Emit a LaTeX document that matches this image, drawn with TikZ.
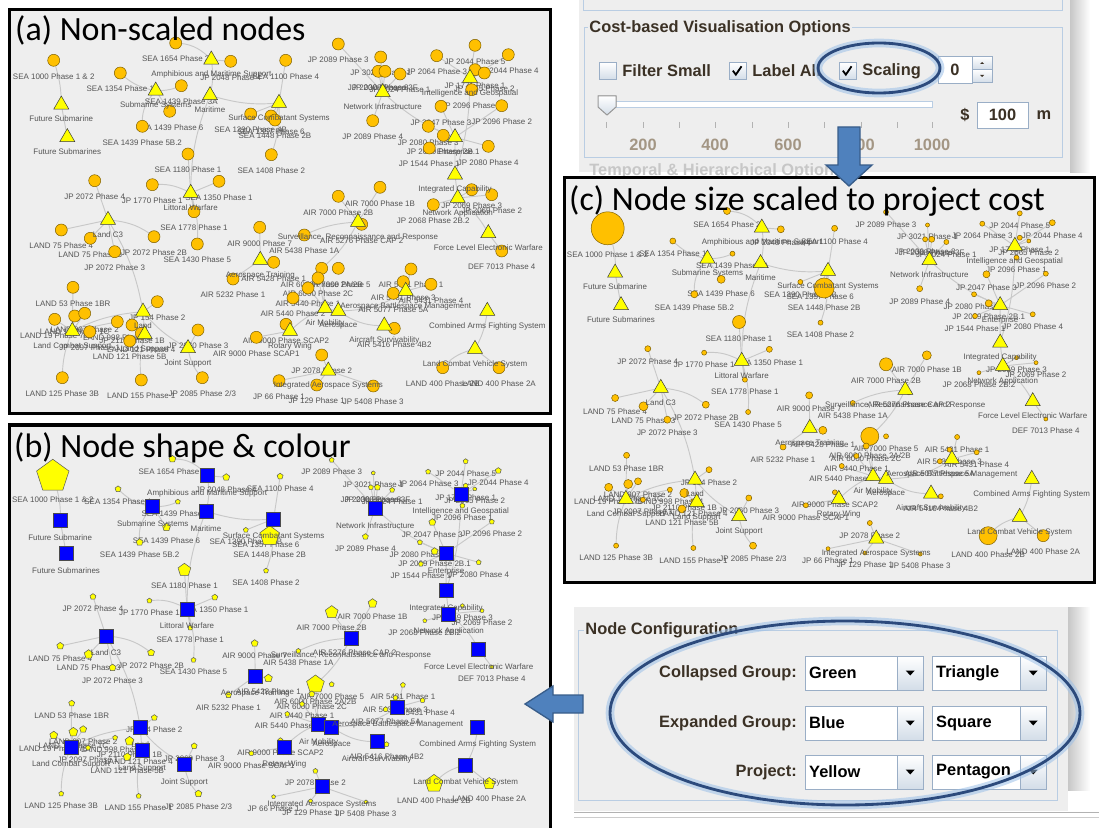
\documentclass[tikz,border=0pt]{standalone}
\usepackage{fontspec}
\setmainfont{Liberation Sans}
\newfontfamily\capfont{Carlito}
\usetikzlibrary{positioning,shapes.geometric}
\definecolor{PanelGray}{HTML}{EEEEEE}
\definecolor{ProjOrange}{HTML}{FFC000}
\definecolor{ProjLine}{HTML}{7F6000}
\definecolor{GrpYellow}{HTML}{FFFF00}
\definecolor{GrpLine}{HTML}{3A3A3A}
\definecolor{SqBlue}{HTML}{0000FF}
\definecolor{LinkGray}{HTML}{C8C8C8}
\definecolor{LabelInk}{HTML}{555555}
\definecolor{GuiBg}{HTML}{EEEEEE}
\definecolor{GuiInk}{HTML}{3B3125}
\definecolor{GuiFrame}{HTML}{B9CDE3}
\definecolor{GuiFaint}{HTML}{A39684}
\definecolor{BoxLine}{HTML}{9AAEC6}
\definecolor{BtnShade}{HTML}{D3DDE8}
\definecolor{ArrowFill}{HTML}{4F81BD}
\definecolor{ArrowLine}{HTML}{385D8A}
\definecolor{RingBlue}{HTML}{2C4A7C}
\definecolor{RingGlow}{HTML}{9CC0E8}

\pgfdeclarelayer{panel}
\pgfdeclarelayer{links}
\pgfsetlayers{panel,links,main}

\newcommand\pj[5]{\node[proj=#4,label={below:{#5}}] (#1) at (#2,#3) {};}
\newcommand\gp[4]{\node[grp,label={below:{#4}}] (#1) at (#2,#3) {};}

% the same project graph is drawn in all three panels
\newcommand\projnodes{%
\pj{sea1654}{167.7}{35}{7}{SEA 1654 Phase 2}
\pj{jp2048}{222.7}{53.3}{7}{JP 2048 Phase 4}
\pj{sea1100}{277.7}{52.3}{6}{SEA 1100 Phase 4}
\pj{sea1000}{45.7}{52.3}{33}{SEA 1000 Phase 1 \& 2}
\pj{sea1354}{112.3}{65}{6}{SEA 1354 Phase 1}
\pj{sea1439a}{173.3}{77.7}{5}{SEA 1439 Phase 3A}
\pj{sea1439b}{161.7}{103.3}{8}{SEA 1439 Phase 6}
\pj{sea1439c}{134.3}{118.3}{7}{SEA 1439 Phase 5B.2}
\pj{sea1180}{180}{146}{13}{SEA 1180 Phase 1}
\pj{jp2072a}{86.7}{172.7}{6}{JP 2072 Phase 4}
\pj{jp1770}{144.3}{176.7}{5}{JP 1770 Phase 1}
\pj{sea1350}{211}{173.3}{6}{SEA 1350 Phase 1}
\pj{sea1390}{242.7}{106}{5}{SEA 1390 Phase 4B}
\pj{sea1357}{263}{108}{6}{SEA 1357 Phase 6}
\pj{sea1448}{267}{112}{20}{SEA 1448 Phase 2B}
\pj{sea1408}{263.3}{146.7}{5}{SEA 1408 Phase 2}
\pj{jp2089a}{330.3}{36}{5}{JP 2089 Phase 3}
\pj{jp3021}{372.7}{49}{4}{JP 3021 Phase 1}
\pj{jp2030}{370.3}{63.3}{5}{JP 2030 Phase 8}
\pj{jp2008}{377}{63.3}{6}{JP 2008 Phase 3F}
\pj{jp3024}{392}{66}{5}{JP 3024 Phase 1}
\pj{jp2089b}{364.7}{112.7}{6}{JP 2089 Phase 4}
\pj{jp2064}{428.7}{47.7}{5}{JP 2064 Phase 3}
\pj{jp2044a}{467}{37.3}{5}{JP 2044 Phase 5}
\pj{jp2044b}{500.3}{46.7}{6}{JP 2044 Phase 4}
\pj{jp1771}{467}{61.7}{5}{JP 1771 Phase 1}
\pj{jp2065}{476.3}{65}{4}{JP 2065 Phase 2}
\pj{jp2096a}{463.7}{81.7}{5}{JP 2096 Phase 1}
\pj{jp2047}{433}{98.3}{7}{JP 2047 Phase 3}
\pj{jp2096b}{493.7}{97.7}{5}{JP 2096 Phase 2}
\pj{jp2080a}{420.3}{118.3}{5}{JP 2080 Phase 3}
\pj{jp2089c}{435.3}{127.3}{7}{JP 2089 Phase 2B.1}
\pj{jp1544}{421.3}{140}{5}{JP 1544 Phase 1}
\pj{jp2080b}{480.3}{138.3}{5}{JP 2080 Phase 4}
\pj{air7000a}{372}{179.3}{9}{AIR 7000 Phase 1B}
\pj{air7000b}{330.3}{188.3}{13}{AIR 7000 Phase 2B}
\pj{jp2069a}{463.7}{181.7}{4}{JP 2069 Phase 3}
\pj{jp2069b}{483.7}{186.7}{4}{JP 2069 Phase 2}
\pj{jp2068}{425.3}{196.7}{4}{JP 2068 Phase 2B.2}
\pj{def7013}{493.7}{243}{4}{DEF 7013 Phase 4}
\pj{air5276}{353.7}{216.3}{5}{AIR 5276 Phase CAP 2}
\pj{air5438}{296.3}{227}{5}{AIR 5438 Phase 1A}
\pj{air5428}{265.7}{254.3}{8}{AIR 5428 Phase 1}
\pj{air5232}{225}{271}{6}{AIR 5232 Phase 1}
\pj{air9000a}{251.7}{219.3}{7}{AIR 9000 Phase 7}
\pj{air6000}{313.7}{260.3}{18}{AIR 6000 Phase 2A/2B}
\pj{air7000c}{330.3}{260.3}{5}{AIR 7000 Phase 5}
\pj{air6000c}{310}{270}{6}{AIR 6000 Phase 2C}
\pj{air5440a}{300}{280}{5}{AIR 5440 Phase 1}
\pj{air5440b}{285}{290}{5}{AIR 5440 Phase 2}
\pj{air5431a}{403}{261}{5}{AIR 5431 Phase 1}
\pj{air5431b}{423}{276.3}{5}{AIR 5431 Phase 4}
\pj{air5431c}{395.3}{273.7}{5}{AIR 5431 Phase 3}
\pj{air5077}{385.3}{285.3}{5}{AIR 5077 Phase 5A}
\pj{air5416}{386.3}{320.3}{5}{AIR 5416 Phase 4B2}
\pj{land400b}{434.7}{359.7}{18}{LAND 400 Phase 2B}
\pj{land400a}{491}{359.7}{12}{LAND 400 Phase 2A}
\pj{air9000b}{278}{316.3}{5}{AIR 9000 Phase SCAP2}
\pj{air9000c}{248.3}{329.3}{5}{AIR 9000 Phase SCAP1}
\pj{jp2078}{313.7}{347}{5}{JP 2078 Phase 2}
\pj{jp66}{271}{372.7}{4}{JP 66 Phase 1}
\pj{jp129}{308.7}{377}{4}{JP 129 Phase 1}
\pj{jp5408}{365.3}{378}{4}{JP 5408 Phase 3}
\pj{land75a}{53.3}{222}{7}{LAND 75 Phase 4}
\pj{land75b}{82.3}{230.3}{9}{LAND 75 Phase 3}
\pj{jp2072b}{106.7}{243.7}{7}{JP 2072 Phase 3}
\pj{jp2072c}{146}{228.7}{7}{JP 2072 Phase 2B}
\pj{sea1778}{186}{203.7}{5}{SEA 1778 Phase 1}
\pj{sea1430}{189.3}{236}{5}{SEA 1430 Phase 5}
\pj{land53}{65}{279.3}{6}{LAND 53 Phase 1BR}
\pj{jp154}{149.3}{293.7}{6}{JP 154 Phase 2}
\pj{land19}{46.7}{311.3}{8}{LAND 19 Phase 7B}
\pj{land17}{66.7}{308}{9}{LAND 17 Phase 1C}
\pj{land907}{76.7}{305.3}{7}{LAND 907 Phase 2}
\pj{land998}{109.3}{313.7}{5}{LAND 998 Phase 1}
\pj{jp2097}{81.7}{323.7}{5}{JP 2097 Phase 1}
\pj{jp2110}{124}{317}{9}{JP 2110 Phase 1B}
\pj{land121}{121.7}{333}{8}{LAND 121 Phase 5B}
\pj{land121b}{133.3}{325.3}{5}{LAND 121 Phase 4}
\pj{jp2060}{190}{322}{6}{JP 2060 Phase 3}
\pj{land125}{54.3}{369.7}{5}{LAND 125 Phase 3B}
\pj{land155}{133.3}{372}{5}{LAND 155 Phase 1}
\pj{jp2085}{194.3}{369.7}{7}{JP 2085 Phase 2/3}
% groups
\gp{amphib}{203.3}{51.7}{Amphibious and Maritime Support}
\gp{subsys}{147.7}{82.7}{Submarine Systems}
\gp{maritime}{202}{87.3}{Maritime}
\gp{futsub}{53.3}{96.7}{Future Submarine}
\gp{futsubs}{59.3}{129.3}{Future Submarines}
\gp{littoral}{182.7}{185}{Littoral Warfare}
\gp{surface}{271}{95}{Surface Combatant Systems}
\gp{netinf}{374.7}{84.3}{Network Infrastructure}
\gp{intgeo}{462}{70}{Intelligence and Geospatial}
\gp{enterprise}{447}{129.3}{Enterprise}
\gp{intcap}{447}{166.7}{Integrated Capability}
\gp{netapp}{449.7}{190}{Network Application}
\gp{flew}{480.3}{225.3}{Force Level Electronic Warfare}
\gp{surv}{350}{214}{Surveillance, Reconnaissance and Response}
\gp{aerotrain}{252.3}{252}{Aerospace Training}
\gp{airmob}{317}{300.3}{Air Mobility}
\gp{aerospace}{330.3}{303}{Aerospace}
\gp{abm}{397.7}{283}{Aerospace Battlespace Management}
\gp{cafs}{479.3}{303}{Combined Arms Fighting System}
\gp{aircsurv}{376.3}{317.7}{Aircraft Survivability}
\gp{lcvs}{467}{341}{Land Combat Vehicle System}
\gp{rotary}{282}{323}{Rotary Wing}
\gp{ias}{320.3}{362.7}{Integrated Aerospace Systems}
\gp{landc3}{100}{212}{Land C3}
\gp{land}{135}{303.7}{Land}
\gp{lcs}{64.3}{323}{Land Combat Support}
\gp{landsup}{136.7}{326.3}{Land Support}
\gp{joint}{180}{340.3}{Joint Support}
}

\newcommand\projlinks{%
\draw[link] (sea1000) to[bend left=8] (futsub) (futsub) -- (futsubs);
\draw[link] (subsys) to[bend left=15] (sea1354) (subsys) to[bend right=10] (sea1439a)
  (subsys) -- (sea1439b) (subsys) to[bend right=20] (sea1439c);
\draw[link] (amphib) to[bend right=20] (sea1654) (amphib) -- (jp2048)
  (amphib) to[bend left=10] (maritime) (maritime) to[bend right=10] (surface)
  (maritime) to[bend right=10] (littoral);
\draw[link] (littoral) -- (sea1180) (littoral) to[bend right=15] (jp1770) (littoral) -- (sea1350)
  (littoral) -- (sea1778) (littoral) to[bend left=10] (sea1430);
\draw[link] (surface) -- (sea1100) (surface) -- (sea1390) (surface) -- (sea1448)
  (surface) -- (sea1357) (surface) to[bend left=10] (sea1408);
\draw[link] (netinf) -- (jp2089a) (netinf) -- (jp3021) (netinf) -- (jp2030) (netinf) -- (jp2008)
  (netinf) -- (jp3024) (netinf) -- (jp2089b) (netinf) to[bend right=10] (enterprise);
\draw[link] (intgeo) -- (jp2064) (intgeo) -- (jp2044a) (intgeo) -- (jp2044b) (intgeo) -- (jp1771)
  (intgeo) -- (jp2065) (intgeo) -- (jp2096a) (intgeo) to[bend left=8] (intcap);
\draw[link] (enterprise) -- (jp2047) (enterprise) -- (jp2096b) (enterprise) -- (jp2080a)
  (enterprise) -- (jp2089c) (enterprise) -- (jp1544) (enterprise) -- (jp2080b)
  (enterprise) -- (intcap) (intcap) -- (netapp);
\draw[link] (netapp) -- (jp2069a) (netapp) -- (jp2069b) (netapp) -- (jp2068)
  (netapp) to[bend left=10] (flew) (flew) -- (def7013);
\draw[link] (surv) -- (air5276) (surv) to[bend right=10] (air5438) (surv) -- (air7000b)
  (surv) -- (air7000a) (surv) to[bend left=10] (air6000);
\draw[link] (aerotrain) -- (air5232) (aerotrain) -- (air9000a) (aerotrain) -- (air5428);
\draw[link] (airmob) -- (air6000) (airmob) -- (air6000c) (airmob) -- (air5440a) (airmob) -- (air5440b)
  (aerospace) -- (airmob) (aerospace) to[bend right=15] (abm) (aerospace) to[bend right=15] (aircsurv);
\draw[link] (abm) -- (air5431a) (abm) -- (air5431b) (abm) -- (air5431c) (abm) -- (air5077)
  (aircsurv) -- (air5416);
\draw[link] (cafs) to[bend left=10] (lcvs) (lcvs) to[bend right=15] (land400b) (lcvs) -- (land400a);
\draw[link] (rotary) -- (air9000b) (rotary) -- (air9000c) (rotary) to[bend left=10] (airmob);
\draw[link] (ias) -- (jp2078) (ias) -- (jp66) (ias) -- (jp129) (ias) -- (jp5408);
\draw[link] (landc3) -- (land75a) (landc3) -- (land75b) (landc3) -- (jp2072a) (landc3) -- (jp2072b)
  (landc3) to[bend left=15] (jp2072c) (landc3) to[bend left=10] (land);
\draw[link] (land) -- (jp154) (land) to[bend right=10] (lcs) (land) -- (landsup);
\draw[link] (lcs) -- (land53) (lcs) -- (land19) (lcs) -- (land17) (lcs) -- (land907) (lcs) -- (jp2097)
  (lcs) to[bend right=10] (land125) (lcs) -- (land998);
\draw[link] (landsup) -- (jp2110) (landsup) -- (land121) (landsup) -- (land121b)
  (landsup) to[bend right=10] (land155);
\draw[link] (joint) -- (jp2060) (joint) to[bend right=15] (jp2085) (joint) to[bend left=10] (land);
}

\begin{document}
\begin{tikzpicture}[
  x=0.3mm, y=-0.3mm,
  every label/.style={font=\fontsize{6.8}{7}\selectfont, text=LabelInk, inner sep=0pt},
  label distance=1.95mm,
  link/.style={draw=LinkGray, line width=0.28mm},
  frame/.style={draw=black, line width=1.05mm},
  title/.style={font=\capfont\fontsize{29}{32}\selectfont, inner sep=0pt, anchor=base west},
  guihead/.style={font=\bfseries\fontsize{14}{16}\selectfont, text=GuiInk, inner sep=1pt},
  guitext/.style={font=\bfseries\fontsize{14}{16}\selectfont, text=GuiInk, inner sep=0pt},
  chkbox/.style={draw=BoxLine, top color=white, bottom color=BtnShade, minimum size=5.1mm, inner sep=0pt},
  checked/.style={path picture={\draw[black, line width=0.55mm]
    ([xshift=-1.4mm,yshift=0.1mm]path picture bounding box.center) -- ++(0.9mm,-1.2mm) -- ++(1.7mm,2.5mm);}},
  field/.style={draw=BoxLine, fill=white, minimum height=8.1mm, inner sep=0pt,
    font=\bfseries\fontsize{14}{16}\selectfont, text=GuiInk},
  spinbtn/.style={draw=BoxLine, top color=white, bottom color=BtnShade, minimum width=6mm, minimum height=4mm, inner sep=0pt},
  combo/.style={draw=BoxLine, fill=white, inner xsep=1.2mm, inner ysep=0pt, minimum height=10.2mm,
    text width=#1, align=left, font=\bfseries\fontsize{14}{16}\selectfont, text=black},
  dropbtn/.style={draw=BoxLine, top color=white, bottom color=BtnShade, minimum width=7.8mm, minimum height=10.2mm, inner sep=0pt,
    path picture={\fill[black] ([xshift=-1.35mm,yshift=0.75mm]path picture bounding box.center)
      -- ++(2.7mm,0) -- ++(-1.35mm,-1.5mm) -- cycle;}},
  ringglow/.style={draw=RingGlow, line width=2.6mm, opacity=0.55},
  ring/.style={draw=RingBlue, line width=0.85mm},
  blockarrow/.style={fill=ArrowFill, draw=ArrowLine, line width=0.4mm, line join=miter}
]
\useasboundingbox (0,0) rectangle (1099,828);

% (a) panel
\begin{pgfonlayer}{panel}
\fill[PanelGray] (8,8) rectangle (552,415);
\end{pgfonlayer}
\begin{scope}[name prefix=a-,
  proj/.style={circle, draw=ProjLine, fill=ProjOrange, line width=0.15mm, minimum size=3.6mm, inner sep=0pt},
  grp/.style={regular polygon, regular polygon sides=3, draw=GrpLine, fill=GrpYellow, line width=0.15mm, minimum size=5.2mm, inner sep=0pt}]
  \begin{scope}
    \clip (11,11) rectangle (549,412);
    \begin{scope}[shift={(8,8)}]
      \projnodes
    \end{scope}
  \end{scope}
  \begin{pgfonlayer}{links}\projlinks\end{pgfonlayer}
\end{scope}
\draw[frame] (9.5,9.5) rectangle (550.5,413.5);
\node[title] (atitle) at (15,41) {(a) Non-scaled nodes};

% (b) panel
\begin{pgfonlayer}{panel}
\fill[PanelGray] (8,423) rectangle (552,830);
\end{pgfonlayer}
\begin{scope}[name prefix=b-,
  proj/.style={regular polygon, regular polygon sides=5, draw=black!65, fill=GrpYellow, line width=0.15mm, minimum size=#1*0.31mm, inner sep=0pt},
  grp/.style={rectangle, draw=black!70, fill=SqBlue, line width=0.15mm, minimum size=4.2mm, inner sep=0pt}]
  \begin{scope}
    \clip (11,427) rectangle (549,830);
    \begin{scope}[shift={(8,424)}, xscale=0.98]
      \projnodes
    \end{scope}
  \end{scope}
  \begin{pgfonlayer}{links}\projlinks\end{pgfonlayer}
\end{scope}
\draw[frame] (9.5,425) rectangle (550.5,835);
\node[title] (btitle) at (14,457) {(b) Node shape \& colour};

% cost-based options (GUI)
\fill[GuiBg] (579,0) rectangle (1070,172);
\shade[left color=black!22, right color=white] (1070,0) rectangle (1090,172);
\draw[GuiFrame, line width=0.3mm] (583,0) -- (583,11) -- (1062,11) -- (1062,0);
\draw[GuiFrame, line width=0.3mm] (584,28) rectangle (1062,157);
\node[guihead, fill=GuiBg, anchor=west] (costhead) at (588,28) {Cost-based Visualisation Options};
\node[chkbox] (filterbox) at (607.5,71) {};
\node[guitext, right=1.8mm of filterbox] (filtertext) {Filter Small};
\node[chkbox, checked] (labelbox) at (737.5,71) {};
\node[guitext, right=1.8mm of labelbox] (labeltext) {Label All};
\node[chkbox, checked] (scalebox) at (847.5,71) {};
\node[guitext, right=1.8mm of scalebox] (scaletext) {Scaling};
\node[field, minimum width=10.2mm] (spinfield) at (955,69.5) {0};
\node[spinbtn, path picture={\fill[GuiInk] ([xshift=-0.6mm,yshift=-0.3mm]path picture bounding box.center) -- ++(1.2mm,0) -- ++(-0.6mm,0.6mm) -- cycle;}] (spinup) at (982,63) {};
\node[spinbtn, path picture={\fill[GuiInk] ([xshift=-0.6mm,yshift=0.3mm]path picture bounding box.center) -- ++(1.2mm,0) -- ++(-0.6mm,-0.6mm) -- cycle;}] (spindown) at (982,76) {};
\draw[GuiFrame, fill=white, line width=0.3mm] (600,102) rectangle (932,108);
\filldraw[draw=black!40, top color=white, bottom color=BtnShade, line width=0.3mm]
  (598,96) -- (616,96) -- (616,107) -- (607,115) -- (598,107) -- cycle;
\draw[black!30, line width=0.3mm] (606,122) -- (606,128) (643,122) -- (643,128) (679,122) -- (679,128)
  (715,122) -- (715,128) (752,122) -- (752,128) (788,122) -- (788,128) (824,122) -- (824,128)
  (861,122) -- (861,128) (897,122) -- (897,128) (932,122) -- (932,128);
\node[guitext, text=GuiFaint] (tick200) at (643,145) {200};
\node[guitext, text=GuiFaint] (tick400) at (715,145) {400};
\node[guitext, text=GuiFaint] (tick600) at (788,145) {600};
\node[guitext, text=GuiFaint] (tick800) at (861,145) {800};
\node[guitext, text=GuiFaint] (tick1000) at (932,145) {1000};
\node[guitext] (dollar) at (965,115) {\$};
\node[field, minimum width=15.3mm, minimum height=7.8mm] (costfield) at (1002.5,115) {100};
\node[guitext] (unitm) at (1044,115) {m};
\node[guihead, text=black!22, anchor=west] (temphead) at (588,171) {Temporal \& Hierarchical Options};
\draw[ringglow] (879,68) ellipse [x radius=61, y radius=25];
\draw[ring] (879,68) ellipse [x radius=61, y radius=25];

% (c) panel
\begin{pgfonlayer}{panel}
\fill[PanelGray] (563,176) rectangle (1096,584);
\end{pgfonlayer}
\begin{scope}[name prefix=c-,
  proj/.style={circle, draw=ProjLine, fill=ProjOrange, line width=0.15mm, minimum size=#1*0.3mm, inner sep=0pt},
  grp/.style={regular polygon, regular polygon sides=3, draw=GrpLine, fill=GrpYellow, line width=0.15mm, minimum size=5.2mm, inner sep=0pt}]
  \begin{scope}
    \clip (567,180) rectangle (1092,580);
    \begin{scope}[shift={(563,176)}, xscale=0.978]
      \projnodes
    \end{scope}
  \end{scope}
  \begin{pgfonlayer}{links}\projlinks\end{pgfonlayer}
\end{scope}
\draw[frame] (564.5,177.5) rectangle (1094.5,582.5);
\node[title] (ctitle) at (569,210) {(c) Node size scaled to project cost};
\filldraw[blockarrow] (838,127) -- (860,127) -- (860,165) -- (872,165) -- (849,186)
  -- (826,165) -- (838,165) -- cycle;

% node configuration (GUI)
\fill[GuiBg] (574,607) rectangle (1068,811);
\shade[left color=black!22, right color=white] (1068,607) rectangle (1090,790);
\draw[black!30, line width=0.3mm] (574,812) -- (1099,812);
\draw[black!20, line width=0.3mm] (574,817) -- (1099,817);
\draw[GuiFrame, line width=0.3mm] (578,630) rectangle (1057,800);
\node[guihead, fill=GuiBg, anchor=west] (confighead) at (584,630) {Node Configuration};
\node[guitext, anchor=east] (collapsedlbl) at (797,673) {Collapsed Group:};
\node[combo=33mm, anchor=west] (greenbox) at (805,673) {Green};
\node[dropbtn, anchor=east] (greenbtn) at (greenbox.east) {};
\node[combo=31.8mm, anchor=west] (trianglebox) at (932,673) {Triangle};
\node[dropbtn, anchor=east] (trianglebtn) at (trianglebox.east) {};
\node[guitext, anchor=east] (expandedlbl) at (797,723) {Expanded Group:};
\node[combo=33mm, anchor=west] (bluebox) at (805,723) {Blue};
\node[dropbtn, anchor=east] (bluebtn) at (bluebox.east) {};
\node[combo=31.8mm, anchor=west] (squarebox) at (932,723) {Square};
\node[dropbtn, anchor=east] (squarebtn) at (squarebox.east) {};
\node[guitext, anchor=east] (projectlbl) at (797,772) {Project:};
\node[combo=33mm, anchor=west] (yellowbox) at (805,772) {Yellow};
\node[dropbtn, anchor=east] (yellowbtn) at (yellowbox.east) {};
\node[combo=31.8mm, anchor=west] (pentagonbox) at (932,772) {Pentagon};
\node[dropbtn, anchor=east] (pentagonbtn) at (pentagonbox.east) {};
\draw[ringglow] (845,713) ellipse [x radius=235, y radius=92];
\draw[ring] (845,713) ellipse [x radius=235, y radius=92];
\filldraw[blockarrow] (583,695) -- (583,713) -- (553,713) -- (553,722) -- (525,704)
  -- (553,686) -- (553,695) -- cycle;
\end{tikzpicture}
\end{document}
